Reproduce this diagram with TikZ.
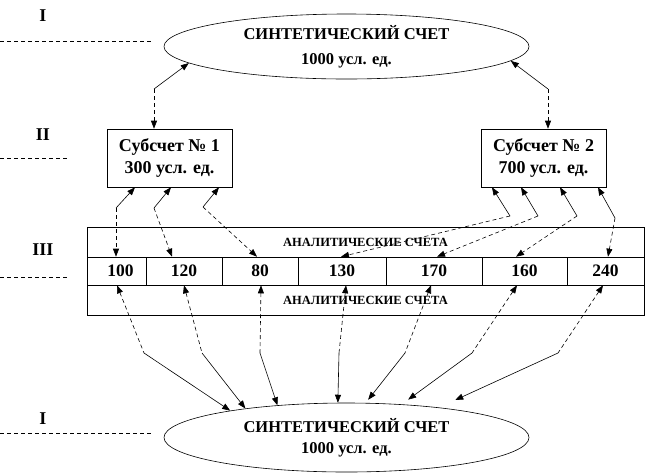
\documentclass[tikz,border=0pt]{standalone}
\usepackage{fontspec}
\setmainfont{Liberation Serif}
\usetikzlibrary{arrows.meta,shapes.geometric,calc}
\begin{document}
\begin{tikzpicture}[x=1pt,y=-1pt,
  ln/.style={line width=0.6pt},
  dsh/.style={line width=0.6pt, dash pattern=on 4pt off 3pt},
  tipend/.style={-{Triangle[length=8pt,width=6pt]}},
  tipstart/.style={{Triangle[length=8pt,width=6pt]}-},
  synth/.style={ellipse, draw, line width=0.6pt, minimum width=365pt, inner sep=0pt, align=center},
  subbox/.style={rectangle, draw, line width=0.6pt, minimum width=125pt, minimum height=58pt, inner sep=0pt, align=center, font=\bfseries\fontsize{18}{22}\selectfont},
  band/.style={draw, line width=0.6pt, minimum width=557pt, minimum height=30pt, inner sep=0pt, font=\bfseries\fontsize{12.5}{14}\selectfont},
  cell/.style={draw, line width=0.6pt, minimum height=28pt, inner sep=0pt, font=\bfseries\fontsize{17.5}{18}\selectfont},
  lvl/.style={font=\bfseries\fontsize{18}{20}\selectfont},
  guide/.style={line width=0.6pt, dash pattern=on 4pt off 3pt}
]
\useasboundingbox (0,0) rectangle (647,475);

% level labels and guide lines
\node[lvl] (l1) at (43,16) {I};
\node[lvl] (l2) at (43,135) {II};
\node[lvl] (l3) at (43,250) {III};
\node[lvl] (l4) at (43,419) {I};
\coordinate (g1a) at (0,41);  \coordinate (g1b) at (152,41);
\coordinate (g2a) at (0,158); \coordinate (g2b) at (68,158);
\coordinate (g3a) at (0,277); \coordinate (g3b) at (68,277);
\coordinate (g4a) at (0,433); \coordinate (g4b) at (152,433);
\draw[guide] (g1a) -- (g1b);
\draw[guide] (g2a) -- (g2b);
\draw[guide] (g3a) -- (g3b);
\draw[guide] (g4a) -- (g4b);

% synthetic accounts
\node[synth, minimum height=65pt, font=\bfseries\fontsize{16.5}{25}\selectfont] (e1) at (346.5,46.5)
  {СИНТЕТИЧЕСКИЙ СЧЕТ\\1000 усл. ед.};
\node[synth, minimum height=69pt, font=\bfseries\fontsize{16.5}{21}\selectfont] (e2) at (346.5,437.5)
  {СИНТЕТИЧЕСКИЙ СЧЕТ\\1000 усл. ед.};

% sub-accounts
\node[subbox] (b1) at (169.5,158) {Субсчет № 1\\300 усл. ед.};
\node[subbox] (b2) at (543.5,158) {Субсчет № 2\\700 усл. ед.};

% analytic accounts table
\node[band] (t1) at (365.5,242) {АНАЛИТИЧЕСКИЕ СЧЕТА};
\node[band] (t2) at (365.5,300) {АНАЛИТИЧЕСКИЕ СЧЕТА};
\node[cell, minimum width=59pt] (n100) at (116.5,271) {\hspace{8pt}100};
\node[cell, minimum width=76pt] (n120) at (184,271) {120\hspace{6pt}};
\node[cell, minimum width=76pt] (n80)  at (260,271) {80\hspace{4pt}};
\node[cell, minimum width=88pt] (n130) at (342,271) {130\hspace{4pt}};
\node[cell, minimum width=96pt] (n170) at (434,271) {170\hspace{26pt}};
\node[cell, minimum width=85pt] (n160) at (524.5,271) {160\hspace{20pt}};
\node[cell, minimum width=77pt] (n240) at (605.5,271) {240};

% knees
\coordinate (k1) at (154,89);
\coordinate (k2) at (548,89);
\coordinate (a1) at (116,208);
\coordinate (a2) at (154,208);
\coordinate (a3) at (203,207);
\coordinate (q1) at (510,216);
\coordinate (q2) at (538,216);
\coordinate (q3) at (577,216);
\coordinate (q4) at (615,218);
\coordinate (c1) at (144,353);
\coordinate (c2) at (202,353);
\coordinate (c3) at (260,353);
\coordinate (c4) at (339,353);
\coordinate (c5) at (405,353);
\coordinate (c6) at (472,353);
\coordinate (c7) at (558,353);

% synthetic -> sub-accounts
\draw[ln,tipstart] (e1.186) -- (k1);
\draw[dsh,tipend] (k1) -- ([xshift=-15.5pt]b1.north);
\draw[ln,tipstart] (e1.355) -- (k2);
\draw[dsh,tipend] (k2) -- ([xshift=4.5pt]b2.north);

% sub-account 1 -> cells
\draw[ln,tipstart] ([xshift=-34.5pt]b1.south) -- (a1);
\draw[dsh,tipend] (a1) -- ([xshift=-0.5pt]n100.north);
\draw[ln,tipstart] ([xshift=1.5pt]b1.south) -- (a2);
\draw[dsh,tipend] (a2) -- ([xshift=-12pt]n120.north);
\draw[ln,tipstart] ([xshift=49.5pt]b1.south) -- (a3);
\draw[dsh,tipend] (a3) -- ([xshift=-3pt]n80.north);

% sub-account 2 -> cells
\draw[ln,tipstart] ([xshift=-51.5pt]b2.south) -- (q1);
\draw[dsh,tipend] (q1) -- ([xshift=-1pt]n130.north);
\draw[ln,tipstart] ([xshift=-22.5pt]b2.south) -- (q2);
\draw[dsh,tipend] (q2) -- ([xshift=3pt]n170.north);
\draw[ln,tipstart] ([xshift=16.5pt]b2.south) -- (q3);
\draw[dsh,tipend] (q3) -- ([xshift=-8.5pt]n160.north);
\draw[ln,tipstart] ([xshift=54.5pt]b2.south) -- (q4);
\draw[dsh,tipend] (q4) -- ([xshift=2.5pt]n240.north);

% cells -> lower synthetic account
\draw[dsh,tipstart] ([xshift=0.5pt]n100.south) -- (c1);
\draw[ln,tipend] (c1) -- (e2.167);
\draw[dsh,tipstart] (n120.south) -- (c2);
\draw[ln,tipend] (c2) -- (e2.164);
\draw[dsh,tipstart] ([xshift=1pt]n80.south) -- (c3);
\draw[ln,tipend] (c3) -- (e2.155);
\draw[dsh,tipstart] ([xshift=4pt]n130.south) -- (c4);
\draw[ln,tipend] (c4) -- (e2.104);
\draw[dsh,tipstart] ([xshift=-3pt]n170.south) -- (c5);
\draw[ln,tipend,shorten >=4pt] (c5) -- (e2.61);
\draw[dsh,tipstart] ([xshift=-7.5pt]n160.south) -- (c6);
\draw[ln,tipend,shorten >=8pt] (c6) -- (e2.31);
\draw[dsh,tipstart] ([xshift=-2.5pt]n240.south) -- (c7);
\draw[ln,tipend,shorten >=18pt] (c7) -- (e2.18);
\end{tikzpicture}
\end{document}
